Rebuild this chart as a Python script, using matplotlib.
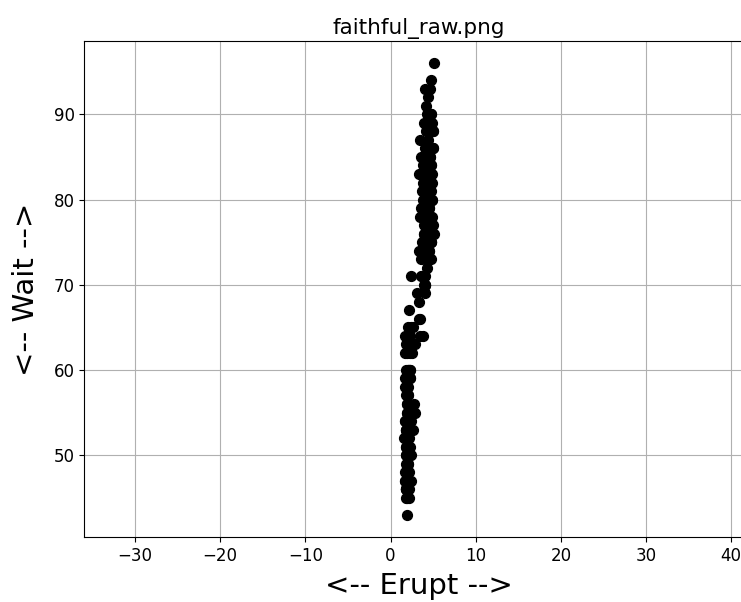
import matplotlib
matplotlib.use("Agg")
import matplotlib.pyplot as plt

# Old Faithful data: eruption length (min) and waiting time (min)
erupt = [3.600, 1.800, 3.333, 2.283, 4.533, 2.883, 4.700, 3.600, 1.950, 4.350,
         1.833, 3.917, 4.200, 1.750, 4.700, 2.167, 1.750, 4.800, 1.600, 4.250,
         1.800, 1.750, 3.450, 3.067, 4.533, 3.600, 1.967, 4.083, 3.850, 4.433,
         4.300, 4.467, 3.367, 4.033, 3.833, 2.017, 1.867, 4.833, 1.833, 4.783,
         4.350, 1.883, 4.567, 1.750, 4.533, 3.317, 3.833, 2.100, 4.633, 2.000,
         4.800, 4.716, 1.833, 4.833, 1.733, 4.883, 3.717, 1.667, 4.567, 4.317,
         2.233, 4.500, 1.750, 4.800, 1.817, 4.400, 4.167, 4.700, 2.067, 4.700,
         4.033, 1.967, 4.500, 4.000, 1.983, 5.067, 2.017, 4.567, 3.883, 3.600,
         4.133, 4.333, 4.100, 2.633, 4.067, 4.933, 3.950, 4.517, 2.167, 4.000,
         2.200, 4.333, 1.867, 4.817, 1.833, 4.300, 4.667, 3.750, 1.867, 4.900,
         2.483, 4.367, 2.100, 4.500, 4.050, 1.867, 4.700, 1.783, 4.850, 3.683,
         4.733, 2.300, 4.900, 4.417, 1.700, 4.633, 2.317, 4.600, 1.817, 4.417,
         2.617, 4.067, 4.250, 1.967, 4.600, 3.767, 1.917, 4.500, 2.267, 4.650,
         1.867, 4.167, 2.800, 4.333, 1.833, 4.383, 1.883, 4.933, 2.033, 3.733,
         4.233, 2.233, 4.533, 4.817, 4.333, 1.983, 4.633, 2.017, 5.100, 1.800,
         5.033, 4.000, 2.400, 4.600, 3.567, 4.000, 4.500, 4.083, 1.800, 3.967,
         2.200, 4.150, 2.000, 3.833, 3.500, 4.583, 2.367, 5.000, 1.933, 4.617,
         1.917, 2.083, 4.583, 3.333, 4.167, 4.333, 4.500, 2.417, 4.000, 4.167,
         1.883, 4.583, 4.250, 3.767, 2.033, 4.433, 4.083, 1.833, 4.417, 2.183,
         4.800, 1.833, 4.800, 4.100, 3.966, 4.233, 3.500, 4.366, 2.250, 4.667,
         2.100, 4.350, 4.133, 1.867, 4.600, 1.783, 4.367, 3.850, 1.933, 4.500,
         2.383, 4.700, 1.867, 3.833, 3.417, 4.233, 2.400, 4.800, 2.000, 4.150,
         1.867, 4.267, 1.750, 4.483, 4.000, 4.117, 4.083, 4.267, 3.917, 4.550,
         4.083, 2.417, 4.183, 2.217, 4.450, 1.883, 1.850, 4.283, 3.950, 2.333,
         4.150, 2.350, 4.933, 2.900, 4.583, 3.833, 2.083, 4.367, 2.133, 4.350,
         2.200, 4.450, 3.567, 4.500, 4.150, 3.817, 3.917, 4.450, 2.000, 4.283,
         4.767, 4.533, 1.850, 4.250, 1.983, 2.250, 4.750, 4.117, 2.150, 4.417,
         1.817, 4.467]
wait = [79, 54, 74, 62, 85, 55, 88, 85, 51, 85, 54, 84, 78, 47, 83, 52, 62, 84,
        52, 79, 51, 47, 78, 69, 74, 83, 55, 76, 78, 79, 73, 77, 66, 80, 74, 52,
        48, 80, 59, 90, 80, 58, 84, 58, 73, 83, 64, 53, 82, 59, 75, 90, 54, 80,
        54, 83, 71, 64, 77, 81, 59, 84, 48, 82, 60, 92, 78, 78, 65, 73, 82, 56,
        79, 71, 62, 76, 60, 78, 76, 83, 75, 82, 70, 65, 73, 88, 76, 80, 48, 86,
        60, 90, 50, 78, 63, 72, 84, 75, 51, 82, 62, 88, 49, 83, 81, 47, 84, 52,
        86, 81, 75, 59, 89, 79, 59, 81, 50, 85, 59, 87, 53, 69, 77, 56, 88, 81,
        45, 82, 55, 90, 45, 83, 56, 89, 46, 82, 51, 86, 53, 79, 81, 60, 82, 77,
        76, 59, 80, 49, 96, 53, 77, 77, 65, 81, 71, 70, 81, 93, 53, 89, 45, 86,
        58, 78, 66, 76, 63, 88, 52, 93, 49, 57, 77, 68, 81, 81, 73, 50, 85, 74,
        55, 77, 83, 83, 51, 78, 84, 46, 83, 55, 81, 57, 76, 84, 77, 81, 87, 77,
        51, 78, 60, 82, 91, 53, 78, 46, 77, 84, 49, 83, 71, 80, 49, 75, 64, 76,
        53, 94, 55, 76, 50, 82, 54, 75, 78, 79, 78, 78, 70, 79, 70, 54, 86, 50,
        90, 54, 54, 77, 79, 64, 75, 47, 86, 63, 85, 82, 57, 82, 67, 74, 54, 83,
        73, 73, 88, 80, 71, 83, 56, 79, 78, 84, 58, 83, 43, 60, 75, 81, 46, 90,
        46, 74]

fig = plt.figure(figsize=(7.41, 6.02), dpi=100)
# the original axes runs a little past the right edge of the saved image
ax = fig.add_axes([84.3 / 741, 64.7 / 602, 669.5 / 741, 496.6 / 602])
ax.scatter(erupt, wait, s=50, c="black", zorder=3)
ax.axis("equal")
ax.grid(True, zorder=0)
ax.set_axisbelow(True)
ax.set_title("faithful_raw.png", fontsize=15.5, pad=5)
ax.set_xlabel("<-- Erupt -->", fontsize=21, labelpad=5)
ax.set_ylabel("<-- Wait -->", fontsize=21, labelpad=10)
ax.tick_params(labelsize=12)

plt.savefig("out.png", dpi=100)
